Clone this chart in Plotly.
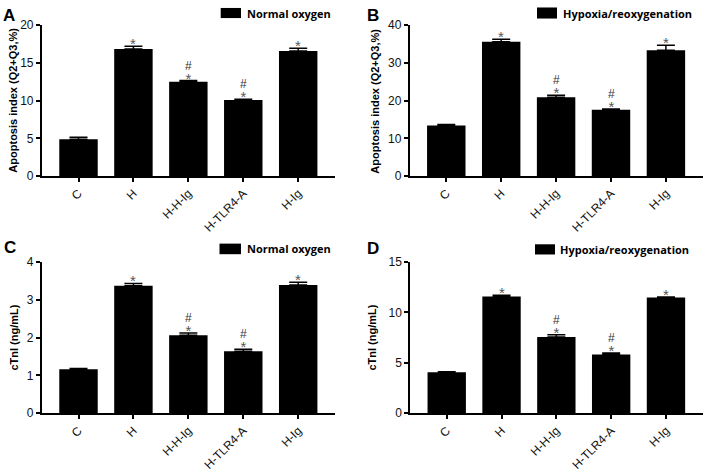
import plotly.graph_objects as go

W, H = 709, 472

categories = ["C", "H", "H-H-Ig", "H-TLR4-A", "H-Ig"]

# Panel A: apoptosis index, normal oxygen
a_values = [4.89, 16.85, 12.5, 10.08, 16.6]
a_errors = [0.26, 0.38, 0.17, 0.09, 0.34]
# Panel B: apoptosis index, hypoxia/reoxygenation
b_values = [13.4, 35.6, 20.9, 17.6, 33.4]
b_errors = [0.3, 0.7, 0.5, 0.15, 1.3]
# Panel C: cTnI, normal oxygen
c_values = [1.16, 3.37, 2.06, 1.64, 3.39]
c_errors = [0.02, 0.06, 0.06, 0.05, 0.07]
# Panel D: cTnI, hypoxia/reoxygenation
d_values = [4.05, 11.58, 7.55, 5.83, 11.48]
d_errors = [0.05, 0.12, 0.22, 0.13, 0.05]

star_marks = [False, True, True, True, True]
hash_marks = [False, False, True, True, False]

a_ticks = [0, 5, 10, 15, 20]
b_ticks = [0, 10, 20, 30, 40]
c_ticks = [0, 1, 2, 3, 4]
d_ticks = [0, 5, 10, 15]

panel_letters = ["A", "B", "C", "D"]
legend_labels = ["Normal oxygen", "Hypoxia/reoxygenation", "Normal oxygen", "Hypoxia/reoxygenation"]
y_titles = ["Apoptosis index (Q2+Q3,%)", "Apoptosis index (Q2+Q3,%)", "cTnI (ng/mL)", "cTnI (ng/mL)"]


def px(x):
    return x / W


def py(y):
    return 1 - y / H


panels = [
    dict(vals=a_values, errs=a_errors, ticks=a_ticks, x0=41.7, x1=335, y0=19, y1=175.7,
         letter=(9, 9), leg_rect=(220.7, 1, 241, 11.5), leg_text=245, ytitle_x=13),
    dict(vals=b_values, errs=b_errors, ticks=b_ticks, x0=409.5, x1=702.7, y0=19, y1=175.7,
         letter=(373, 9), leg_rect=(537, 0.5, 557, 12), leg_text=561, ytitle_x=375),
    dict(vals=c_values, errs=c_errors, ticks=c_ticks, x0=41.7, x1=335, y0=265, y1=422.3,
         letter=(10, 250), leg_rect=(219.5, 246, 241, 257), leg_text=245, ytitle_x=14),
    dict(vals=d_values, errs=d_errors, ticks=d_ticks, x0=410, x1=702.7, y0=265, y1=422.3,
         letter=(373, 251), leg_rect=(535, 246.7, 555, 257.3), leg_text=558, ytitle_x=372),
]

fig = go.Figure()
annotations = []
shapes = []
TICKFONT = dict(family="Liberation Sans, Arial", size=12, color="#111")
STAR = "<span style='font-size:15px;color:#555'>*</span>"
HASH = "<span style='font-size:12px;color:#333'>#</span>"

for i, p in enumerate(panels):
    n = "" if i == 0 else str(i + 1)
    xa, ya = "x" + n, "y" + n
    fig.add_trace(go.Bar(
        x=categories, y=p["vals"], xaxis=xa, yaxis=ya, width=0.7,
        marker=dict(color="black", line=dict(width=0)),
        error_y=dict(type="data", array=p["errs"], arrayminus=[0] * len(p["errs"]),
                     symmetric=False, color="black", thickness=1.5, width=9),
        showlegend=False,
    ))
    top = p["ticks"][-1]
    fig.layout["xaxis" + n] = dict(
        domain=[px(p["x0"]), px(p["x1"])], anchor=ya, range=[-0.67, 4.67],
        showline=True, linecolor="black", linewidth=1.5, ticks="outside", ticklen=4,
        tickwidth=1.5, tickcolor="black", tickangle=-45, tickfont=TICKFONT,
        showgrid=False, zeroline=False, fixedrange=True,
    )
    fig.layout["yaxis" + n] = dict(
        domain=[py(p["y1"]), py(p["y0"])], anchor=xa, range=[0, top],
        tickvals=p["ticks"], showline=True, linecolor="black", linewidth=1.5,
        ticks="outside", ticklen=4, tickwidth=1.5, tickcolor="black",
        tickfont=TICKFONT, showgrid=False, zeroline=False, fixedrange=True,
    )
    # significance marks (one text per bar: '#' line above '*')
    for j, c in enumerate(categories):
        if not star_marks[j]:
            continue
        tipv = p["vals"][j] + p["errs"][j]
        txt = (HASH + "<br>" + STAR) if hash_marks[j] else STAR
        annotations.append(dict(x=c, y=tipv, xref=xa, yref=ya, text=txt, showarrow=False,
                                yanchor="bottom", yshift=-8,
                                font=dict(family="Liberation Sans, Arial", size=11, color="#555")))
    # panel letter
    lx, ly = p["letter"]
    annotations.append(dict(x=px(lx), y=py(ly), xref="paper", yref="paper", text="<b>%s</b>" % panel_letters[i],
                            showarrow=False, xanchor="center", yanchor="middle",
                            font=dict(family="Liberation Sans, Arial", size=17, color="black")))
    # legend-like key
    rx0, ry0, rx1, ry1 = p["leg_rect"]
    shapes.append(dict(type="rect", xref="paper", yref="paper", x0=px(rx0), x1=px(rx1),
                       y0=py(ry1), y1=py(ry0), fillcolor="black", line=dict(width=0)))
    annotations.append(dict(x=px(p["leg_text"]), y=py((ry0 + ry1) / 2), xref="paper", yref="paper",
                            text="<b>%s</b>" % legend_labels[i], showarrow=False,
                            xanchor="left", yanchor="middle",
                            font=dict(family="Open Sans", size=11, color="black")))
    # y title
    annotations.append(dict(x=px(p["ytitle_x"]), y=py((p["y0"] + p["y1"]) / 2), xref="paper", yref="paper",
                            text="<b>%s</b>" % y_titles[i], showarrow=False, textangle=-90,
                            xanchor="center", yanchor="middle",
                            font=dict(family="Liberation Sans, Arial", size=11, color="black")))

fig.update_layout(
    width=W, height=H, margin=dict(l=0, r=0, t=0, b=0),
    paper_bgcolor="white", plot_bgcolor="white",
    annotations=annotations, shapes=shapes, bargap=0.3,
)

fig.write_html("out.html", config={"displayModeBar": False},
               post_script="document.body.style.margin='0px';document.body.style.overflow='hidden';")
